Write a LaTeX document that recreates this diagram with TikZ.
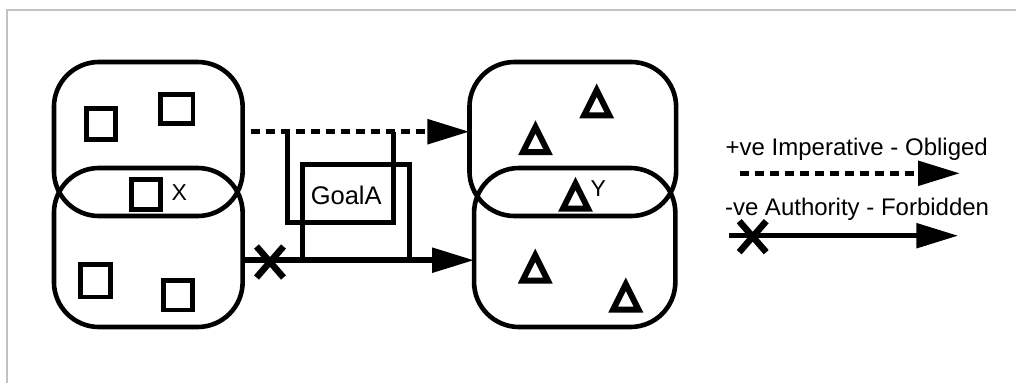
\documentclass[tikz,border=0pt]{standalone}
\usepackage{fontspec}
\setmainfont{Liberation Sans}
\usetikzlibrary{arrows.meta}
\begin{document}
\begin{tikzpicture}[x=1pt,y=-1pt,
  region/.style={draw, line width=4.6pt, rounded corners=45pt, inner sep=0pt, outer sep=0pt},
  token/.style={draw, line width=4.6pt, inner sep=0pt, outer sep=0pt},
  txt/.style={font=\fontsize{24}{28}\selectfont, inner sep=0pt, outer sep=0pt},
  tip/.style={-{Triangle[length=42pt,width=24pt]}},
  oblig/.style={line width=5.5pt, dash pattern=on 9pt off 6pt, tip},
  forbid/.style={line width=5.5pt, tip},
  link/.style={line width=5pt, line join=miter},
  frame/.style={draw=black!24, line width=2pt},
  tri/.pic={\draw[line width=6pt, line join=miter] (0,-11) -- (12.6,14.2) -- (-12.6,14.2) -- cycle;},
  cross/.pic={\draw[line width=6.5pt] (-13.5,-15.5) -- (13.5,15.5) (-13.5,15.5) -- (13.5,-15.5);},
]
\useasboundingbox (0,0) rectangle (1016,383);
\draw[frame] (7,383) -- (7,10.3) -- (1016,10.3);

% left group: two overlapping regions with square tokens
\node[region, minimum width=188.7pt, minimum height=154pt] (LT) at (148.3,139) {};
\node[region, minimum width=188.7pt, minimum height=159pt] (LB) at (148.3,247.5) {};
\node[token, minimum width=29pt, minimum height=31.5pt] (s1) at (100.7,124) {};
\node[token, minimum width=32.5pt, minimum height=29pt] (s2) at (176.7,109) {};
\node[token, minimum width=29pt, minimum height=30pt] (sx) at (146,194.5) {};
\node[token, minimum width=30pt, minimum height=32.5pt] (s3) at (95.5,280.7) {};
\node[token, minimum width=29.5pt, minimum height=29.5pt] (s4) at (178,295.3) {};
\node[txt, font=\fontsize{23}{27}\selectfont, anchor=base] (lx) at (179.3,200.7) {X};

% right group: two overlapping regions with triangle tokens
\node[region, minimum width=206.7pt, minimum height=154pt] (RT) at (572.8,139) {};
\node[region, minimum width=201.3pt, minimum height=159pt] (RB) at (574.7,247.5) {};
\pic (t1) at (596.7,101.2) {tri};
\pic (t2) at (535.5,138) {tri};
\pic (ty) at (575.5,194.5) {tri};
\pic (t3) at (535.2,266.3) {tri};
\pic (t4) at (625.8,295.3) {tri};
\node[txt, font=\fontsize{23}{27}\selectfont, anchor=base] (ly) at (598.3,196) {Y};

% relations between the groups
\draw[oblig, dash phase=9pt] ([yshift=7.3pt,xshift=2pt]LT.east) -- ([yshift=7.3pt]RT.west);
\draw[forbid] ([yshift=-12.7pt]LB.east) -- ([yshift=-12.7pt]RB.west);
\pic (xmain) at (270,262) {cross};

% goal attached to both relations
\draw[link] (287,131.7) -- (287,222.7) -- (393,222.7) -- (393,131.7);
\draw[link] (302,260.2) -- (302,164) -- (409,164) -- (409,260.2);
\node[txt, font=\fontsize{25.5}{30}\selectfont, anchor=base] (goal) at (346.2,204.3) {GoalA};

% legend
\node[txt, anchor=base west] (l1) at (725.7,155.7) {+ve Imperative - Obliged};
\coordinate (o1) at (740,173.3);
\coordinate (o2) at (960,173.3);
\draw[oblig] (o1) -- (o2);
\node[txt, anchor=base west] (l2) at (725,215) {-ve Authority - Forbidden};
\coordinate (f1) at (729.3,235.7);
\coordinate (f2) at (958.3,235.7);
\draw[forbid] (f1) -- (f2);
\pic (xleg) at (752.7,236.7) {cross};
\end{tikzpicture}
\end{document}
